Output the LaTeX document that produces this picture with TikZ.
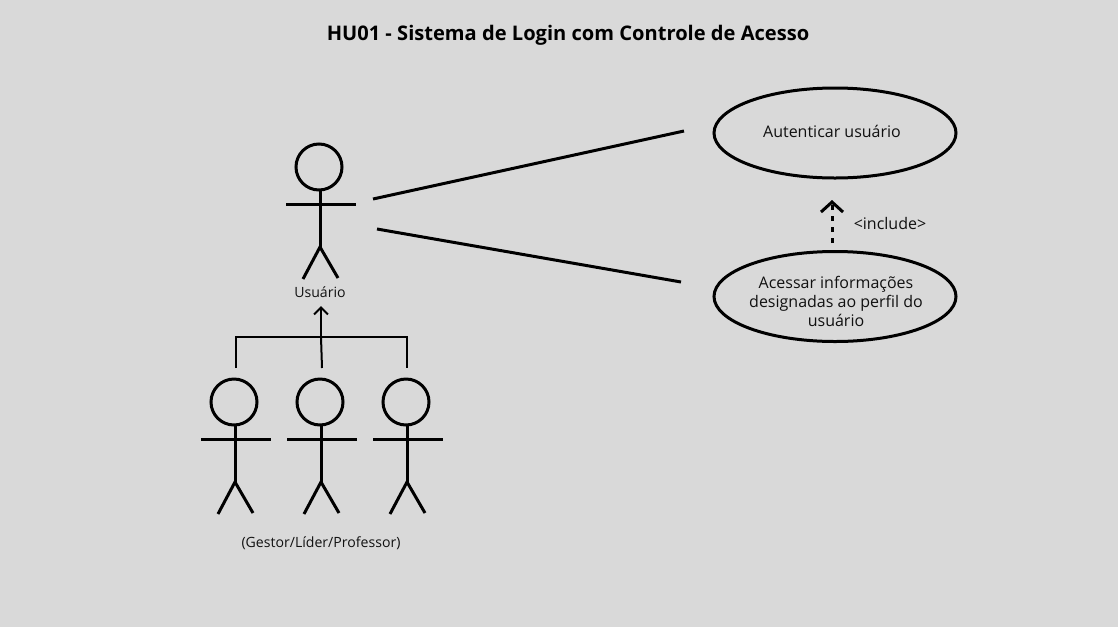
\documentclass[tikz,border=0pt]{standalone}
\usepackage{fontspec}
\setmainfont{Open Sans}
\usetikzlibrary{arrows.meta, shapes.geometric}
\definecolor{canvas}{HTML}{D9D9D9}
\definecolor{ink}{HTML}{111111}

\tikzset{
  pics/actor/.style={code={
    \node[head] (-head) at (-1,-37) {};
    \draw[limb] (0,-14) coordinate (-neck) -- (0,43) coordinate (-hip);
    \draw[limb] (-34,0) -- (36,0);
    \draw[limb] (-17,75) -- (-hip) -- (18,74);
  }},
}

\begin{document}
\begin{tikzpicture}[
  x=1pt, y=-1pt,
  head/.style={circle, draw=black, line width=3pt, minimum size=46pt, inner sep=0pt},
  limb/.style={draw=black, line width=3pt},
  usecase/.style={ellipse, draw=black, line width=3pt, minimum width=242pt, minimum height=90pt, inner sep=0pt},
  label text/.style={font=\fontsize{16}{19}\selectfont, text=ink, align=center, inner sep=0pt},
  small text/.style={font=\fontsize{14.1}{17}\selectfont, text=ink, inner sep=0pt},
  link/.style={draw=black, line width=3pt},
  tree/.style={draw=black, line width=2pt},
  gen arrow/.style={tree, -{Straight Barb[length=7pt, width=14pt]}},
  inc arrow/.style={link, dash pattern=on 5pt off 6pt, -{Straight Barb[length=10pt, width=22pt]}},
]
\fill[canvas] (0,0) rectangle (1118,627);
\useasboundingbox (0,0) rectangle (1118,627);

\node[font=\fontsize{20.1}{24}\selectfont\bfseries, text=black, inner sep=0pt] (title) at (568,35) {HU01 - Sistema de Login com Controle de Acesso};

% actors
\pic (user) at (320,204) {actor};
\pic (manager) at (235,439) {actor};
\pic (leader) at (321,439) {actor};
\pic (teacher) at (407,439) {actor};
\node[small text] (userlabel) at (320,292) {Usuário};
\node[small text] (grouplabel) at (321,543) {(Gestor/Líder/Professor)};

% use cases
\node[usecase] (auth) at (835,133) {};
\node[usecase] (access) at (835,296.5) {};
\node[label text] (authtext) at (832,131.5) {Autenticar usuário};
\node[label text] (accesstext) at (836,301.5) {Acessar informações\\designadas ao perfil do\\usuário};
\node[label text] (include) at (890,223) {<include>};

% associations
\coordinate (authfrom) at (373,199);
\coordinate (authto) at (684,131);
\coordinate (accessfrom) at (377,229);
\coordinate (accessto) at (681,282);
\draw[link] (authfrom) -- (authto);
\draw[link] (accessfrom) -- (accessto);

% include
\coordinate (incfrom) at (832,243);
\coordinate (incto) at (832,200);
\draw[inc arrow] (incfrom) -- (incto);

% generalisation
\coordinate (treeleft) at (236,368);
\coordinate (treeright) at (407,368);
\coordinate (treemid) at (322,368);
\coordinate (treejoin) at (321,337);
\coordinate (treetip) at (321,306);
\draw[tree] (treeleft) |- (treejoin) -| (treeright);
\draw[tree] (treemid) -- (treejoin);
\draw[gen arrow] (treejoin) -- (treetip);
\end{tikzpicture}
\end{document}
